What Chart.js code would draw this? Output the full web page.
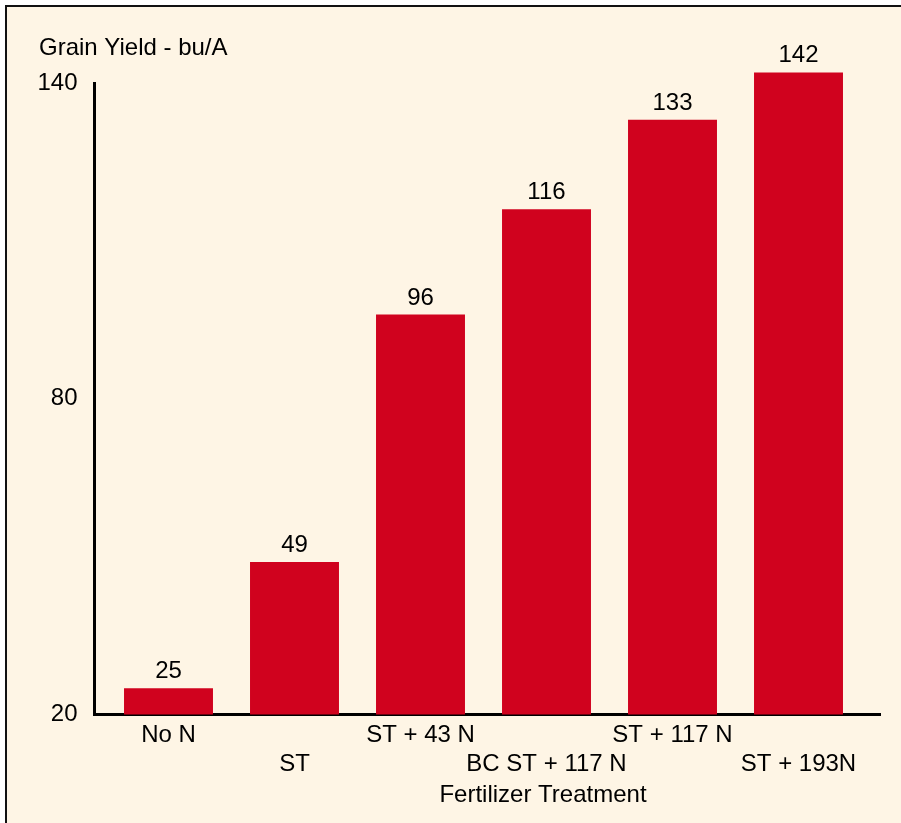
<!DOCTYPE html>
<html>
<head>
<meta charset="utf-8">
<script src="https://cdn.jsdelivr.net/npm/chart.js@4"></script>
<style>
  html, body { margin: 0; padding: 0; background: #ffffff; }
  #frame { position: absolute; left: 5px; top: 5px; width: 896px; height: 818px; box-sizing: border-box;
           border-top: 2px solid #111; border-left: 2px solid #111; background: #FEF5E5; }
  #c { position: absolute; left: 0; top: 0; }
</style>
</head>
<body>
<div id="frame"></div>
<canvas id="c" width="901" height="823"></canvas>
<script>
const categories = ['No N', 'ST', 'ST + 43 N', 'BC ST + 117 N', 'ST + 117 N', 'ST + 193N'];
const yields = [25, 49, 96, 116, 133, 142];
const yTicks = [20, 80, 140];
const yTitle = 'Grain Yield - bu/A';
const xTitle = 'Fertilizer Treatment';

const FONT = "'Liberation Sans', Arial, Helvetica, sans-serif";
const RED = '#D0021E';

const textPlugin = {
  id: 'texts',
  afterDatasetsDraw(chart) {
    const ctx = chart.ctx;
    ctx.save();
    ctx.fillStyle = '#000';
    ctx.font = '24px ' + FONT;
    const meta = chart.getDatasetMeta(0);
    ctx.textAlign = 'center';
    ctx.textBaseline = 'alphabetic';
    meta.data.forEach((bar, i) => {
      ctx.fillText(String(yields[i]), bar.x, bar.y - 10);
    });
    ctx.textAlign = 'left';
    ctx.fillText(yTitle, 39, 55);
    ctx.textAlign = 'center';
    const xs = chart.scales.x;
    ctx.fillText(xTitle, 543, xs.top + 87);
    ctx.restore();
  }
};

new Chart(document.getElementById('c'), {
  type: 'bar',
  data: {
    datasets: [{
      data: yields.map((v, i) => ({ x: i, y: v })),
      backgroundColor: RED,
      borderWidth: 0,
      base: 20,
      categoryPercentage: 1,
      barPercentage: 0.706,
      clip: false
    }]
  },
  options: {
    responsive: false,
    animation: false,
    events: [],
    layout: { padding: { left: 0, top: 83, right: 21, bottom: 0 } },
    plugins: { legend: { display: false }, tooltip: { enabled: false }, title: { display: false } },
    scales: {
      x: {
        type: 'linear',
        offset: false,
        min: -0.5873,
        max: 5.6468,
        grid: { display: false, drawTicks: false, offset: false },
        border: { display: true, color: '#000', width: 3 },
        afterBuildTicks(s) { s.ticks = categories.map((c, i) => ({ value: i })); },
        afterFit(s) { s.height = 108.5; },
        ticks: {
          autoSkip: false,
          maxRotation: 0,
          minRotation: 0,
          padding: 6,
          color: '#000',
          font: { family: FONT, size: 24, lineHeight: 1.2083 },
          callback(value) {
            const i = Math.round(value);
            const lab = categories[i];
            if (lab === undefined) return '';
            return i % 2 === 0 ? [lab] : ['', lab];
          }
        }
      },
      y: {
        type: 'linear',
        min: 20,
        max: 140,
        grid: { display: false, drawTicks: false },
        border: { display: true, color: '#000', width: 3 },
        afterBuildTicks(s) { s.ticks = yTicks.map(v => ({ value: v })); },
        afterFit(s) { s.width = 94.5; },
        ticks: {
          padding: 17,
          color: '#000',
          font: { family: FONT, size: 24 },
          callback(v) { return String(v); }
        }
      }
    }
  },
  plugins: [textPlugin]
});
</script>
</body>
</html>
